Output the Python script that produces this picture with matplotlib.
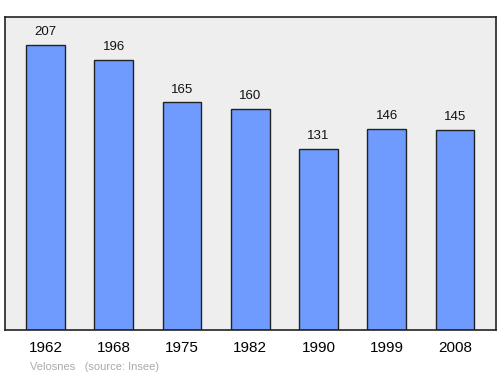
import matplotlib
matplotlib.use("Agg")
import matplotlib.pyplot as plt

years = ["1962", "1968", "1975", "1982", "1990", "1999", "2008"]
population = [207, 196, 165, 160, 131, 146, 145]

plt.rcParams["font.family"] = ["Liberation Sans", "DejaVu Sans"]

fig = plt.figure(figsize=(5, 3.74), dpi=100)
ax = fig.add_axes([0.01, 0.1176, 0.982, 0.837])
ax.set_facecolor("#eeeeee")

x = range(len(years))
ax.bar(x, population, width=0.57, color="#6f9bff", edgecolor="#222222", linewidth=1)

for xi, v in zip(x, population):
    ax.text(xi, v + 5, str(v), ha="center", va="bottom", fontsize=9.5, color="#111111")

ax.set_xlim(-0.593, 6.6)
ax.set_ylim(0, 227)
ax.set_yticks([])
ax.set_xticks(list(x))
ax.set_xticklabels(years, fontsize=11)
ax.tick_params(axis="x", length=0, pad=8)
for s in ax.spines.values():
    s.set_color("#222222")
    s.set_linewidth(1.2)

fig.text(0.06, 0.012, "Velosnes   (source: Insee)", fontsize=8, color="#aaaaaa")

fig.savefig("out.png", dpi=100)
